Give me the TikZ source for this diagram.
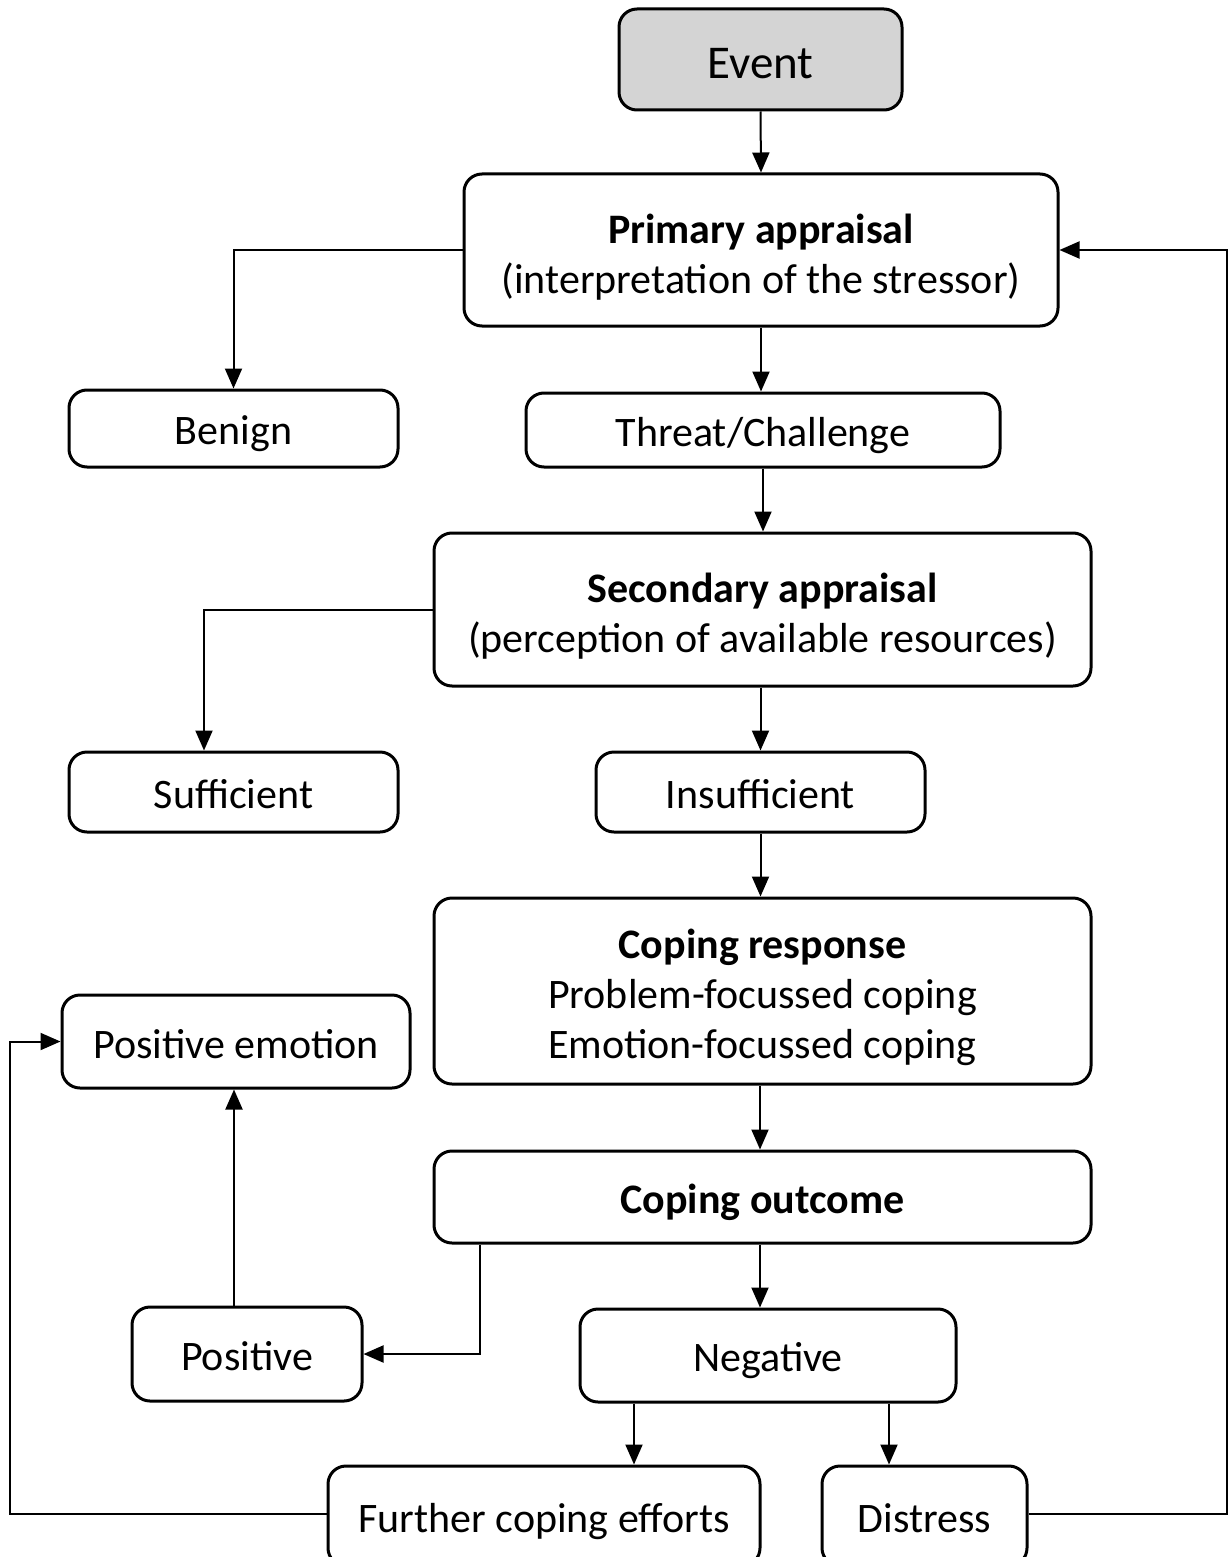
\documentclass[tikz,border=0pt]{standalone}
\usepackage{fontspec}
\setmainfont{Carlito}
\usetikzlibrary{arrows.meta}
\definecolor{evgray}{HTML}{D4D4D4}
\newcommand\toprl{\rule{0pt}{40pt}}
\newcommand\botrl{\rule[-7pt]{0pt}{0pt}}
\newcommand\mtoprl{\rule{0pt}{43pt}}
\begin{document}
\begin{tikzpicture}[x=1pt,y=-1pt,
  box/.style={draw=black, line width=3pt, rounded corners=18pt, inner sep=0pt, align=center,
    font=\fontsize{42}{50}\selectfont, execute at begin node=\toprl, execute at end node=\botrl},
  conn/.style={line width=2pt, -{Triangle[length=20pt,width=17pt]}}]
\useasboundingbox (0,0) rectangle (1228,1557);
\fill[white] (0,0) rectangle (1228,1557);

\node[box, fill=evgray, minimum width=283pt, minimum height=101pt, font=\fontsize{47}{50}\selectfont] (event) at (760.5,59.5) {\rule{0pt}{46pt}Event};
\node[box, minimum width=594pt, minimum height=152pt] (prim) at (761,250) {\mtoprl\textbf{Primary appraisal}\\(interpretation of the stressor)\botrl};
\node[box, minimum width=329pt, minimum height=77pt] (benign) at (233.5,428.5) {Benign};
\node[box, minimum width=474pt, minimum height=74pt] (threat) at (763,430) {Threat/Challenge};
\node[box, minimum width=657pt, minimum height=153pt] (sec) at (762.5,609.5) {\mtoprl\textbf{Secondary appraisal}\\(perception of available resources)\botrl};
\node[box, minimum width=329pt, minimum height=80pt] (suff) at (233.5,792) {Sufficient};
\node[box, minimum width=329pt, minimum height=80pt] (insuff) at (760.5,792) {Insufficient};
\node[box, minimum width=657pt, minimum height=186pt] (cresp) at (762.5,991) {\mtoprl\textbf{Coping response}\\Problem-focussed coping\\Emotion-focussed coping\botrl};
\node[box, minimum width=348pt, minimum height=93pt] (posemo) at (236,1041.5) {Positive emotion};
\node[box, minimum width=657pt, minimum height=92pt] (cout) at (762.5,1197) {\textbf{Coping outcome}};
\node[box, minimum width=230pt, minimum height=94pt] (pos) at (247,1354) {Positive};
\node[box, minimum width=376pt, minimum height=93pt] (neg) at (768,1355.5) {Negative};
\node[box, minimum width=432pt, minimum height=100pt] (further) at (544,1516) {Further coping efforts};
\node[box, minimum width=205pt, minimum height=100pt] (distress) at (924.5,1516) {Distress};

\coordinate (lx) at (10,0);
\coordinate (rx) at (1227,0);

\draw[conn] (event.south) -- (prim.north);
\draw[conn] (prim.west) -| (benign.north);
\draw[conn] (prim.south) -- (prim.south |- threat.north);
\draw[conn] (threat.south) -- (threat.south |- sec.north);
\draw[conn] (sec.west) -| ([xshift=-29.5pt]suff.north);
\draw[conn] ([xshift=-2pt]sec.south) -- ([xshift=-2pt]sec.south |- insuff.north);
\draw[conn] (insuff.south) -- (insuff.south |- cresp.north);
\draw[conn] ([xshift=-2.5pt]cresp.south) -- ([xshift=-2.5pt]cresp.south |- cout.north);
\draw[conn] ([xshift=-282.5pt]cout.south) |- (pos.east);
\draw[conn] ([xshift=-2.5pt]cout.south) -- ([xshift=-2.5pt]cout.south |- neg.north);
\draw[conn] ([xshift=-13pt]pos.north) -- ([xshift=-13pt]pos.north |- posemo.south);
\draw[conn] ([xshift=-134pt]neg.south) -- ([xshift=-134pt]neg.south |- further.north);
\draw[conn] ([xshift=121pt]neg.south) -- ([xshift=121pt]neg.south |- distress.north);
\draw[conn] (further.west |- 0,1514) -- (lx |- 0,1514) -- (lx |- posemo.west) -- (posemo.west);
\draw[conn] (distress.east |- 0,1514) -- (rx |- 0,1514) -- (rx |- prim.east) -- (prim.east);
\end{tikzpicture}
\end{document}
